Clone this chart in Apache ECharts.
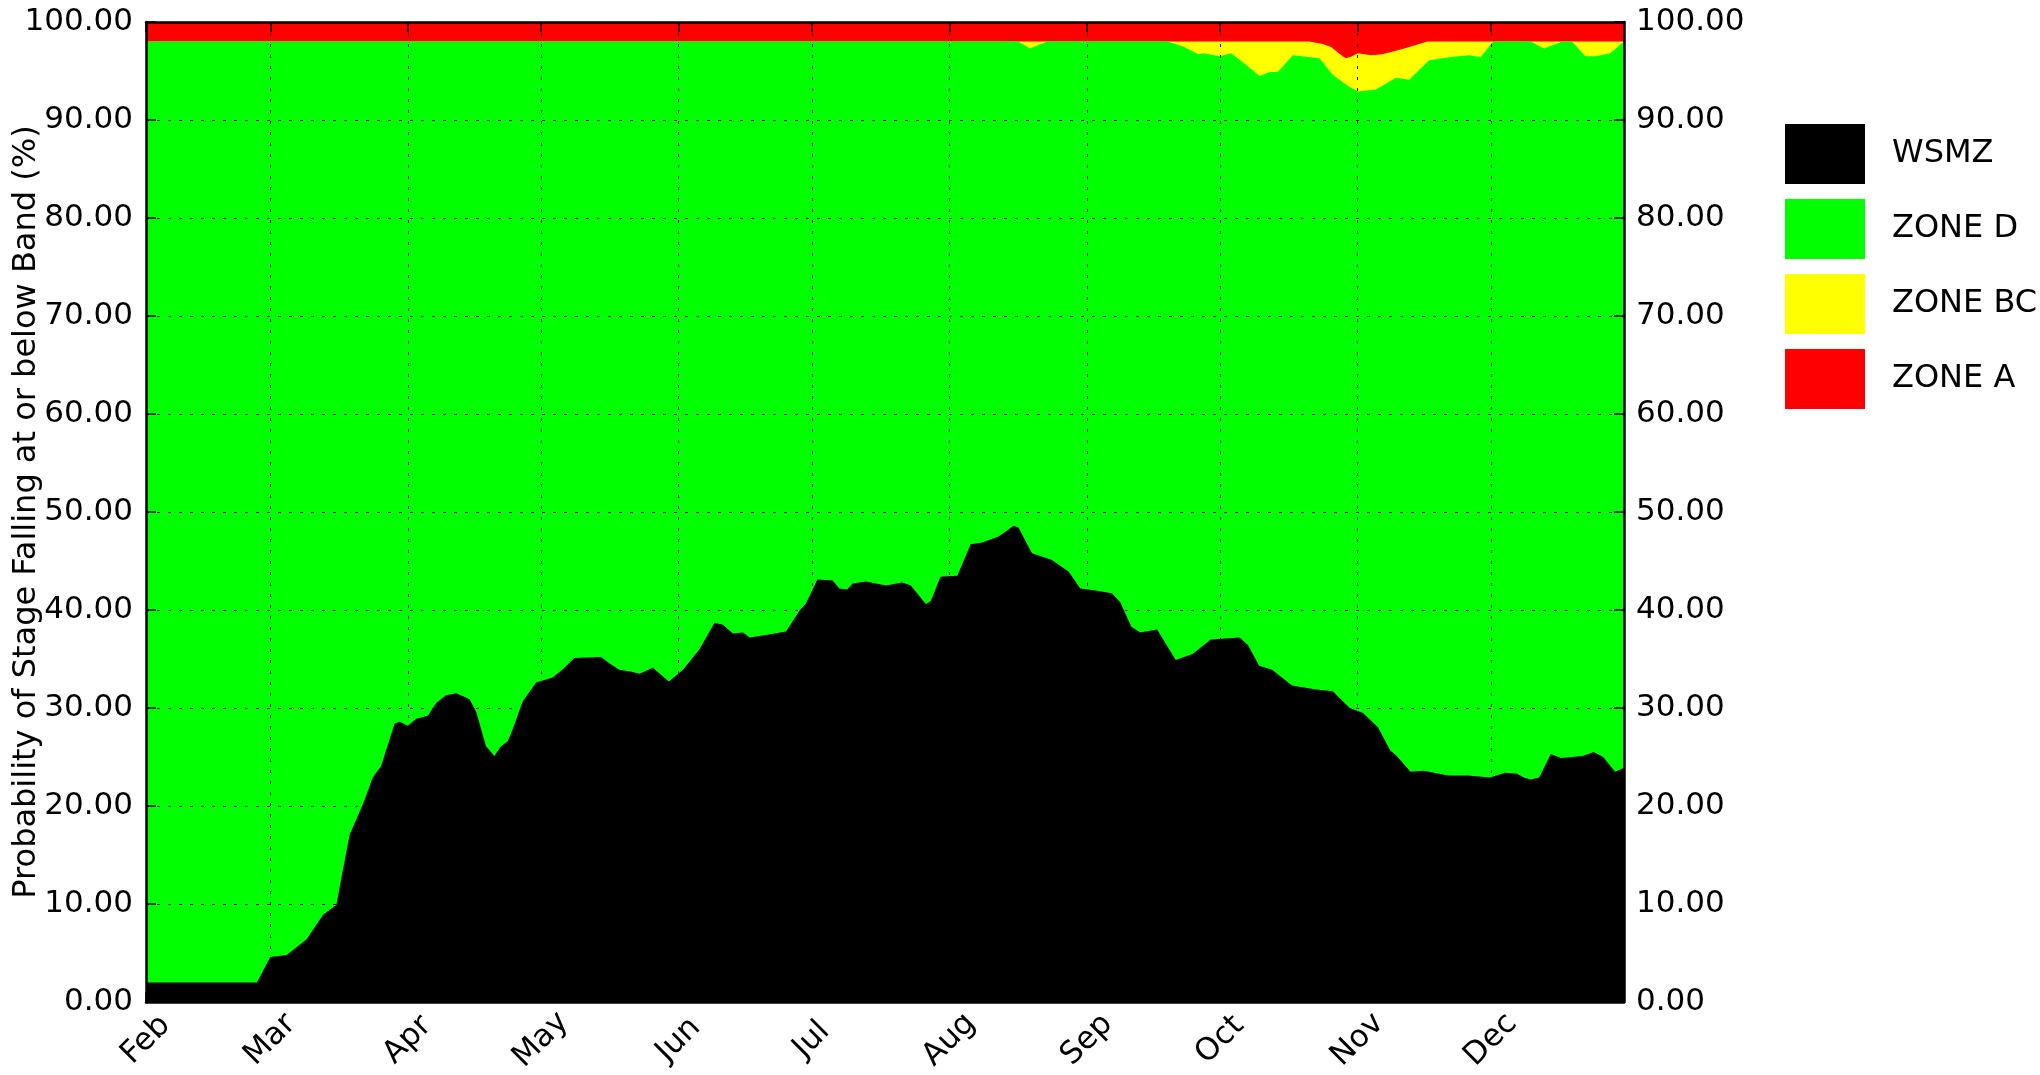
<!DOCTYPE html>
<html>
<head>
<meta charset="utf-8">
<title>Stage probability by band</title>
<script src="https://cdn.jsdelivr.net/npm/echarts@6/dist/echarts.min.js"></script>
<style>
  html, body { margin: 0; padding: 0; background: #fff; }
  #chart { width: 2040px; height: 1075px; }
</style>
</head>
<body>
<div id="chart"></div>
<script>
// x = days counted from 1 Feb (non-leap year), 333 = 31 Dec
const monthStarts = [0, 28, 59, 89, 120, 150, 181, 212, 242, 273, 303]
const monthLabels = ['Feb', 'Mar', 'Apr', 'May', 'Jun', 'Jul', 'Aug', 'Sep', 'Oct', 'Nov', 'Dec']
const lastDay = 333

// cumulative probability (%) of stage at or below each band, [day, value]
const wsmz = [
  [0, 2.0], [25, 2.0], [28, 4.6], [31.7, 4.8], [36.2, 6.4], [39.9, 8.9], [42.9, 9.9],
  [44, 12.6], [45.9, 17.1], [48.9, 20.2], [51.1, 22.9], [53, 24.1], [56, 28.4],
  [57.1, 28.6], [59, 28.2], [60.9, 28.9], [63.5, 29.2], [65.4, 30.5], [67.6, 31.3],
  [69.9, 31.5], [72.9, 30.9], [74.4, 29.6], [76.6, 26.1], [78.5, 25.1], [80, 26.1],
  [81.5, 26.6], [82.6, 27.8], [84.9, 30.7], [87.9, 32.6], [89.4, 32.8], [91.6, 33.1],
  [93.8, 33.9], [96.5, 35.1], [102.5, 35.2], [104.3, 34.6], [106.6, 33.9], [109.4, 33.7],
  [111.2, 33.5], [114.2, 34.1], [117.8, 32.7], [121, 33.9], [124.7, 36.0], [128.1, 38.7],
  [130, 38.5], [132.2, 37.6], [134.5, 37.7], [136, 37.2], [139, 37.4], [144.2, 37.8],
  [147.2, 39.9], [148.7, 40.7], [151.3, 43.1], [154.7, 43.0], [156.2, 42.2], [158, 42.1],
  [159.2, 42.7], [162.2, 42.9], [166.7, 42.5], [170.4, 42.8], [172.3, 42.5], [175.7, 40.6],
  [176.8, 40.9], [179, 43.4], [182.8, 43.5], [185.8, 46.7], [188.4, 46.9], [192.1, 47.5],
  [195.5, 48.6], [196.6, 48.4], [199.6, 45.8], [204.1, 45.1], [207.9, 43.9], [210.5, 42.2],
  [213.9, 42.0], [217.6, 41.7], [219.5, 40.8], [222, 38.3], [224, 37.7], [227.8, 38.0],
  [232, 34.9], [235.8, 35.5], [239.9, 37.0], [246.4, 37.2], [248.3, 36.4], [250.8, 34.3],
  [253.7, 33.9], [258.2, 32.3], [263.6, 31.9], [267.4, 31.7], [271.2, 30.0], [274.2, 29.5],
  [277.6, 28.0], [280.3, 25.7], [281.8, 25.1], [284.9, 23.5], [287.9, 23.6], [293.3, 23.1],
  [297.8, 23.1], [302.8, 22.9], [306.2, 23.4], [308.9, 23.3], [310.4, 22.9], [312, 22.7],
  [313.9, 22.9], [316.5, 25.3], [318.8, 24.9], [323.7, 25.1], [326.2, 25.5], [328.3, 25.0],
  [331, 23.5], [333, 23.9]
]

const zoneD = [
  [0, 98.0], [196.5, 98.0], [199.2, 97.3], [203, 98.0], [230.1, 98.0], [233.7, 97.5],
  [235.9, 97.0], [237.1, 96.7], [238.2, 96.8], [242, 96.5], [244.5, 96.8], [247.9, 95.6],
  [250.9, 94.5], [253.2, 94.9], [255, 94.9], [258.4, 96.6], [264.4, 96.3], [267.4, 94.6],
  [271.1, 93.4], [273, 92.9], [277.1, 93.1], [281.6, 94.3], [284.6, 94.1], [289.1, 96.1],
  [293.6, 96.4], [298.1, 96.6], [300.7, 96.4], [303.5, 98.0], [312, 98.0], [315, 97.3],
  [319.1, 98.0], [321.3, 98.0], [324.3, 96.5], [326.6, 96.5], [328.8, 96.7], [329.9, 96.8],
  [333, 98.0]
]

const zoneBC = [
  [0, 98.0], [262.1, 98.0], [265.1, 97.75], [267, 97.45], [269.3, 96.6], [270.4, 96.3],
  [271.5, 96.45], [273, 96.8], [276, 96.6], [278.6, 96.7], [283.1, 97.25], [286.1, 97.65],
  [288.7, 98.0], [333, 98.0]
]

const zoneA = [[0, 100], [333, 100]]

const font = 'DejaVu Sans'

function areaSeries(name, data, color, z) {
  return {
    name: name,
    type: 'line',
    data: data,
    z: z,
    symbol: 'none',
    silent: true,
    color: color,
    itemStyle: { color: color },
    lineStyle: { width: 0 },
    areaStyle: { color: color, opacity: 1 }
  }
}

const gridLine = { show: true, lineStyle: { color: '#000', width: 1, type: [3, 8] } }
const frame = { show: true, onZero: false, lineStyle: { color: '#000', width: 2.5 } }

const chart = echarts.init(document.getElementById('chart'))

const option = {
  animation: false,
  backgroundColor: '#fff',
  textStyle: { fontFamily: font },
  grid: { left: 146, right: 416, top: 22, bottom: 73, containLabel: false, outerBoundsMode: 'none' },
  legend: {
    orient: 'vertical',
    left: 1785,
    top: 124,
    padding: 0,
    itemWidth: 80,
    itemHeight: 60,
    itemGap: 15,
    icon: 'rect',
    itemStyle: { borderWidth: 0 },
    data: ['WSMZ', 'ZONE D', 'ZONE BC', 'ZONE A'],
    textStyle: { fontFamily: font, fontSize: 32, color: '#000', padding: [0, 0, 0, 22] }
  },
  xAxis: [
    {
      type: 'value',
      min: 0,
      max: lastDay,
      position: 'bottom',
      z: 10,
      axisLine: frame,
      axisTick: { show: true, inside: true, length: 10, customValues: monthStarts, lineStyle: { color: '#000', width: 1.5 } },
      axisLabel: {
        customValues: monthStarts,
        rotate: 45,
        align: 'center',
        verticalAlign: 'middle',
        margin: 38,
        fontFamily: font,
        fontSize: 31,
        color: '#000',
        formatter: (v) => monthLabels[monthStarts.indexOf(Math.round(v))] || ''
      },
      splitLine: gridLine
    },
    {
      type: 'value',
      min: 0,
      max: lastDay,
      position: 'top',
      z: 10,
      axisLine: frame,
      axisTick: { show: true, inside: true, length: 10, customValues: monthStarts, lineStyle: { color: '#000', width: 1.5 } },
      axisLabel: { show: false },
      splitLine: { show: false }
    }
  ],
  yAxis: [
    {
      type: 'value',
      min: 0,
      max: 100,
      interval: 10,
      position: 'left',
      z: 10,
      name: 'Probability of Stage Falling at or below Band (%)',
      nameLocation: 'middle',
      nameGap: 103,
      nameMoveOverlap: false,
      nameTextStyle: { fontFamily: font, fontSize: 32, color: '#000' },
      axisLine: frame,
      axisTick: { show: true, inside: true, length: 10, lineStyle: { color: '#000', width: 1.5 } },
      axisLabel: { margin: 13, fontFamily: font, fontSize: 31, color: '#000', formatter: (v) => v.toFixed(2) },
      splitLine: gridLine
    },
    {
      type: 'value',
      min: 0,
      max: 100,
      interval: 10,
      position: 'right',
      z: 10,
      axisLine: frame,
      axisTick: { show: true, inside: true, length: 10, lineStyle: { color: '#000', width: 1.5 } },
      axisLabel: { margin: 12, fontFamily: font, fontSize: 31, color: '#000', formatter: (v) => v.toFixed(2) },
      splitLine: { show: false }
    }
  ],
  // drawn back to front: each band fills down to 0 over the one before
  series: [
    areaSeries('ZONE A', zoneA, '#ff0000', 1),
    areaSeries('ZONE BC', zoneBC, '#ffff00', 2),
    areaSeries('ZONE D', zoneD, '#00ff00', 3),
    areaSeries('WSMZ', wsmz, '#000000', 4)
  ]
}

chart.setOption(option)
</script>
</body>
</html>
